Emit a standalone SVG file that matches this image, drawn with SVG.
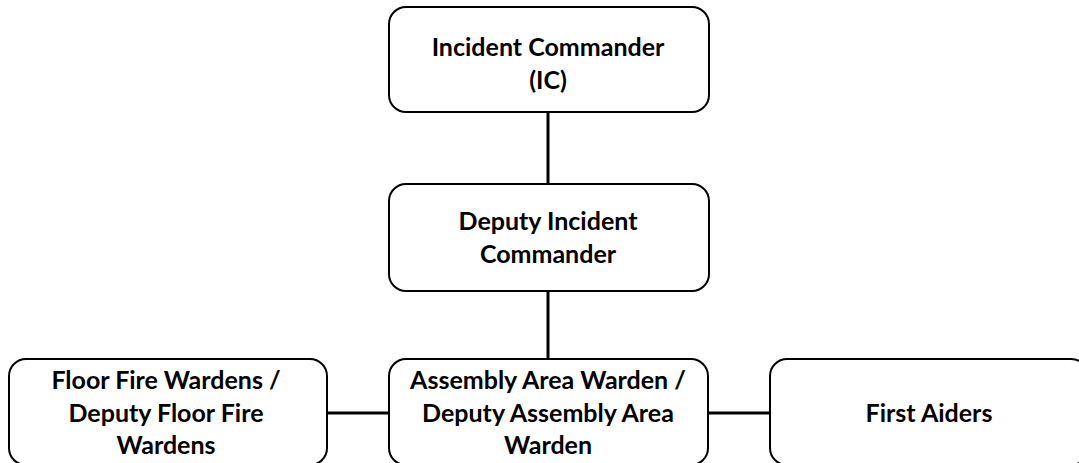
<svg xmlns="http://www.w3.org/2000/svg" width="1079" height="463" viewBox="0 0 1079 463">
  <style>
    .box { fill: #ffffff; stroke: #000000; stroke-width: 2; }
    .lbl { font-family: Lato, "Liberation Sans", sans-serif; font-weight: bold; font-size: 25px; fill: #000000; text-anchor: middle; }
    .wire { stroke: #000000; stroke-width: 3; fill: none; }
  </style>
  <rect width="1079" height="463" fill="#ffffff"/>
  <g id="connectors">
    <line class="wire" x1="548" y1="112" x2="548" y2="184"/>
    <line class="wire" x1="548" y1="291" x2="548" y2="359"/>
    <line class="wire" x1="327" y1="413" x2="389" y2="413"/>
    <line class="wire" x1="708" y1="413" x2="770" y2="413"/>
  </g>
  <g id="incident-commander">
    <rect class="box" x="389" y="7" width="320" height="105" rx="17"/>
    <text class="lbl" x="548" y="56">Incident Commander</text>
    <text class="lbl" x="548" y="89">(IC)</text>
  </g>
  <g id="deputy-incident-commander">
    <rect class="box" x="389" y="184" width="320" height="107" rx="17"/>
    <text class="lbl" x="548" y="230">Deputy Incident</text>
    <text class="lbl" x="548" y="263">Commander</text>
  </g>
  <g id="floor-fire-wardens">
    <rect class="box" x="9" y="359" width="318" height="106" rx="17"/>
    <text class="lbl" x="166" y="389">Floor Fire Wardens /</text>
    <text class="lbl" x="166" y="422">Deputy Floor Fire</text>
    <text class="lbl" x="166" y="454">Wardens</text>
  </g>
  <g id="assembly-area-warden">
    <rect class="box" x="389" y="359" width="319" height="106" rx="17"/>
    <text class="lbl" x="548" y="389">Assembly Area Warden /</text>
    <text class="lbl" x="548" y="422">Deputy Assembly Area</text>
    <text class="lbl" x="548" y="454">Warden</text>
  </g>
  <g id="first-aiders">
    <rect class="box" x="770" y="359" width="318" height="106" rx="17"/>
    <text class="lbl" x="929" y="422">First Aiders</text>
  </g>
</svg>
